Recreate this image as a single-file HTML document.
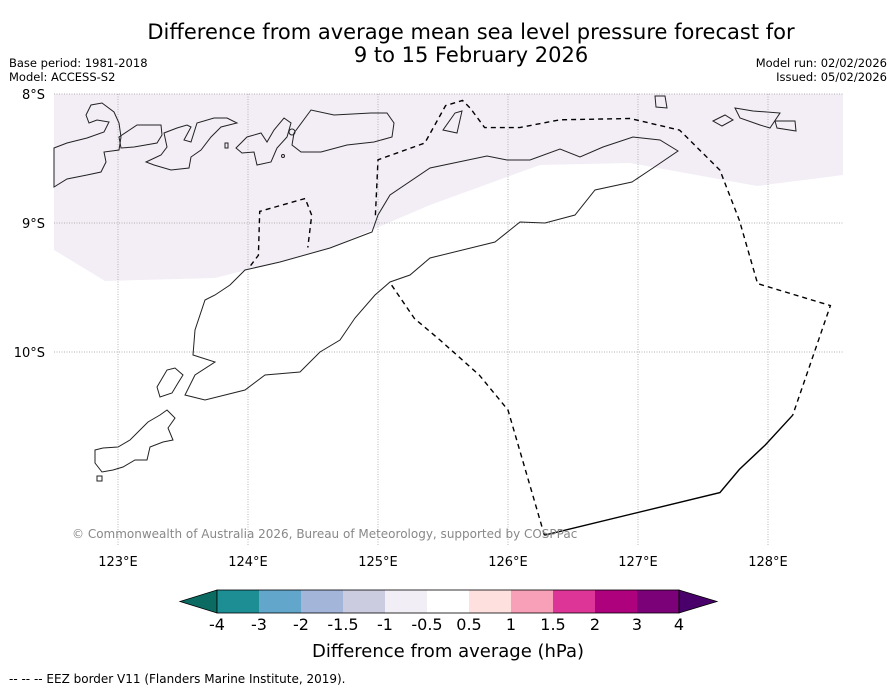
<!DOCTYPE html>
<html><head><meta charset="utf-8"><style>
body{margin:0;background:#fff;font-family:"Liberation Sans","DejaVu Sans",sans-serif}
svg text{font-family:"DejaVu Sans","Liberation Sans",sans-serif}
</style></head><body>
<svg id="s" width="896" height="690" xmlns="http://www.w3.org/2000/svg">
<rect width="896" height="690" fill="#fff"/>
<text x="471" y="39" font-size="21" text-anchor="middle">Difference from average mean sea level pressure forecast for</text>
<text x="471" y="62" font-size="21" text-anchor="middle">9 to 15 February 2026</text>
<text x="9" y="67" font-size="11.5">Base period: 1981-2018</text>
<text x="9" y="81" font-size="11.5">Model: ACCESS-S2</text>
<text x="887" y="67" font-size="11.5" text-anchor="end">Model run: 02/02/2026</text>
<text x="887" y="81" font-size="11.5" text-anchor="end">Issued: 05/02/2026</text>
<g>
<polygon fill="#f3eef6" points="54,94 843,94 843,175 757,186 630,163 540,165 430,205 325,250 215,278 105,281 54,250"/>
<g id="grid" stroke="#999" stroke-width="0.7" stroke-dasharray="1,1.5"></g>
<g fill="none" stroke="#222" stroke-width="1">
<polygon points="54,148 67,143 87,138 104,132 109,122 97,120 89,123 86,115 91,105 102,103 114,112 119,123 121,137 119,150 104,152 106,162 101,172 87,175 67,179 54,187"/>
<polygon points="119,137 137,125 161,125 162,135 157,143 134,147 121,148"/>
<polygon points="146,162 161,155 167,147 164,133 177,128 187,125 191,127 184,140 191,142 197,123 214,118 227,118 237,123 221,127 211,137 201,150 191,157 189,168 171,170 154,165"/>
<polygon points="236,148 247,137 261,133 267,142 274,130 284,118 291,123 287,137 277,148 271,162 257,165 254,152 242,153"/>
<polygon points="294,133 311,110 334,115 371,113 387,113 394,123 392,137 374,142 347,145 321,152 301,152 292,145"/>
<circle cx="292" cy="132" r="3"/><circle cx="283" cy="156" r="1.5"/><rect x="225" y="143" width="3" height="5"/>
<polygon points="443,130 455,113 462,111 457,133"/>
<polygon points="655,96 665,96 667,108 656,107"/>
<polygon points="713,121 725,115 733,120 722,126"/>
<polygon points="735,108 753,111 780,113 770,128 760,125 740,118"/>
<polygon points="775,121 795,121 796,131 777,128"/>
<polygon points="215,295 230,285 245,270 280,262 330,248 372,232 378,215 390,195 430,168 487,156 507,160 530,160 560,149 580,157 603,147 633,137 660,140 678,151 653,168 632,182 595,190 575,215 545,223 520,222 495,242 430,258 410,275 390,282 375,295 355,318 340,340 320,352 300,372 265,375 245,390 205,400 185,395 195,375 215,362 193,355 195,330 205,300"/>
<polygon points="95,450 103,448 118,447 130,440 140,430 148,422 160,415 167,410 170,413 175,418 168,428 173,440 163,442 150,447 147,460 135,460 123,467 113,470 102,472 95,463 95,455"/>
<polygon points="157,387 167,370 175,368 183,375 178,383 172,393 160,397"/>
<rect x="97" y="476" width="5" height="5"/>
</g>
<g id="eez"></g>
<text x="72" y="538" font-size="12" fill="#888">© Commonwealth of Australia 2026, Bureau of Meteorology, supported by COSPPac</text>
</g>
<g id="ticks" font-size="13"></g>
<g id="cbar"></g>
<text x="448" y="657" font-size="18" text-anchor="middle">Difference from average (hPa)</text>
<text x="9" y="683" font-size="12">--  --  -- EEZ border V11 (Flanders Marine Institute, 2019).</text>
</svg>
<script>
const lonTicks=[123,124,125,126,127,128];
const latTicks=[8,9,10];
const eezLon=[124.98,125.00,125.36,125.52,125.65,125.71,125.82,126.09,126.40,126.94,127.32,127.63,127.78,127.92,128.48,128.19];
const eezLat=[-8.94,-8.51,-8.38,-8.09,-8.05,-8.11,-8.26,-8.26,-8.20,-8.19,-8.28,-8.59,-8.98,-9.47,-9.64,-10.49];
const eezSolidLon=[128.19,127.98,127.78,127.63,126.28];
const eezSolidLat=[-10.49,-10.72,-10.91,-11.09,-11.42];
const eezSouthLon=[126.28,126.00,125.78,125.48,125.28,125.09];
const eezSouthLat=[-11.42,-10.45,-10.18,-9.91,-9.74,-9.46];
const eezWestLon=[124.02,124.08,124.09,124.44,124.49,124.46];
const eezWestLat=[-9.33,-9.25,-8.91,-8.81,-8.94,-9.19];
const cbarLabels=["-4","-3","-2","-1.5","-1","-0.5","0.5","1","1.5","2","3","4"];
const cbarColors=["#1c8e94","#62a6cc","#a3b5d8","#cccce0","#f2eef5","#ffffff","#fee0df","#f7a0b8","#dd3497","#ae017e","#7a0177"];
const NS="http://www.w3.org/2000/svg";
const X=lon=>118+(lon-123)*130, Y=lat=>94+(-lat-8)*129;
function mk(t,a,p){const e=document.createElementNS(NS,t);for(const k in a)e.setAttribute(k,a[k]);p.appendChild(e);return e;}
const grid=document.getElementById('grid'),ticks=document.getElementById('ticks');
lonTicks.forEach(l=>{const ln=mk('line',{x1:X(l),x2:X(l),y1:94,y2:545},grid);


const t=mk('text',{x:X(l),y:566,'text-anchor':'middle'},ticks);t.textContent=l+'°E';

});
latTicks.forEach(l=>{const ln=mk('line',{x1:54,x2:843,y1:Y(-l),y2:Y(-l)},grid);


const t=mk('text',{x:45,y:Y(-l)+5,'text-anchor':'end'},ticks);t.textContent=l+'°S';

});
const eez=document.getElementById('eez');
function pl(lo,la,dash){const p=mk('polyline',{points:lo.map((v,i)=>X(v)+','+Y(la[i])).join(' '),fill:'none',stroke:'#000','stroke-width':1.4},eez);
if(dash)p.setAttribute('stroke-dasharray','5,4');

}
pl(eezLon,eezLat,true);pl(eezSolidLon,eezSolidLat,false);pl(eezSouthLon,eezSouthLat,true);pl(eezWestLon,eezWestLat,true);
const cb=document.getElementById('cbar');const x0=217,w=42,y0=590,h=23;
const tl=mk('polygon',{points:`${x0},${y0} ${x0},${y0+h} 180,${y0+h/2}`,fill:'#0b6b62',stroke:'#000','stroke-width':0.8},cb);


cbarColors.forEach((c,i)=>{const r=mk('rect',{x:x0+i*w,y:y0,width:w,height:h,fill:c},cb);

});
const xe=x0+cbarColors.length*w;
const tr=mk('polygon',{points:`${xe},${y0} ${xe},${y0+h} 717,${y0+h/2}`,fill:'#49006a',stroke:'#000','stroke-width':0.8},cb);


mk('rect',{x:x0,y:y0,width:xe-x0,height:h,fill:'none',stroke:'#000','stroke-width':0.8},cb);
cbarLabels.forEach((s,i)=>{const t=mk('text',{x:x0+i*w,y:630,'font-size':16,'text-anchor':'middle'},cb);t.textContent=s;

});
</script>
</body></html>
